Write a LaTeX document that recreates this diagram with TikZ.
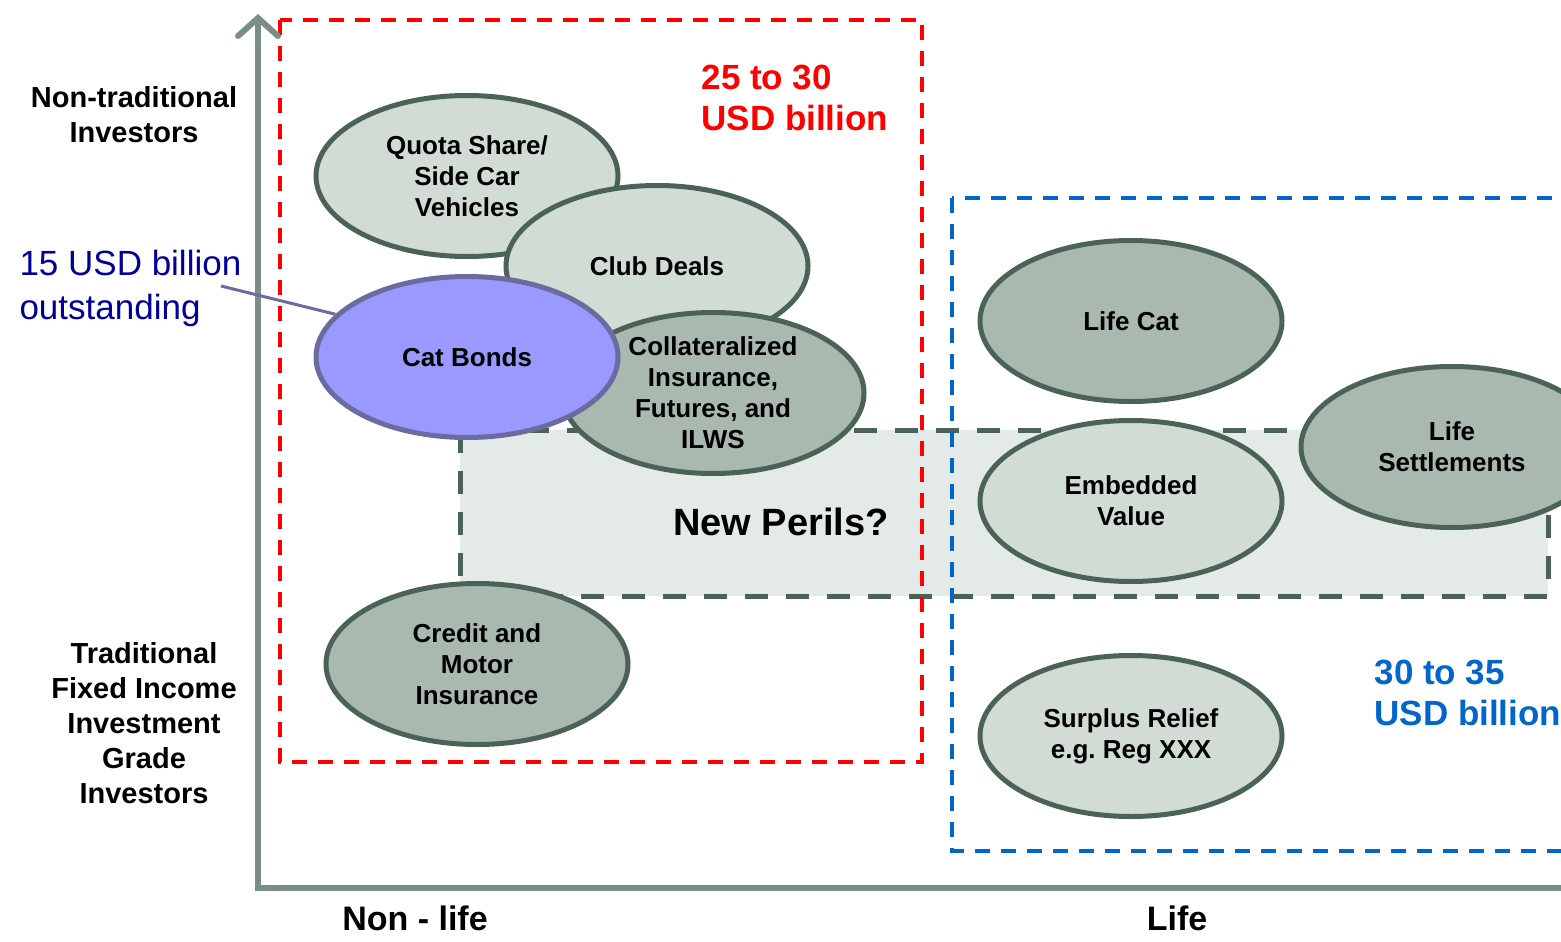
\documentclass[tikz,border=0pt]{standalone}
\usepackage{fontspec}
\setmainfont{Liberation Sans}
\usetikzlibrary{shapes.geometric,arrows.meta}
\definecolor{axisgrey}{HTML}{7A8F84}
\definecolor{rimgreen}{HTML}{4B6356}
\definecolor{palegreen}{HTML}{D1DCD5}
\definecolor{sagegreen}{HTML}{A9B9AF}
\definecolor{perilfill}{HTML}{E4EAE7}
\definecolor{catfill}{HTML}{9999FF}
\definecolor{catrim}{HTML}{6B6BA0}
\definecolor{nonlifered}{HTML}{FF0000}
\definecolor{lifeblue}{HTML}{0066CC}
\definecolor{notenavy}{HTML}{000099}

\begin{document}
\begin{tikzpicture}[x=1pt,y=-1pt,
    oval/.style={ellipse,draw=rimgreen,line width=5pt,minimum width=302pt,
      minimum height=161pt,inner sep=0pt,align=center,
      font=\fontsize{26}{31}\selectfont\bfseries},
    paleoval/.style={oval,fill=palegreen},
    sageoval/.style={oval,fill=sagegreen},
    catoval/.style={oval,fill=catfill,draw=catrim},
    sidelabel/.style={align=center,font=\fontsize{29}{35}\selectfont\bfseries},
    baselabel/.style={font=\fontsize{34}{40}\selectfont\bfseries},
    amount/.style={anchor=west,align=left,font=\fontsize{35}{41}\selectfont\bfseries},
    redframe/.style={draw=nonlifered,line width=3.6pt,dash pattern=on 15pt off 11pt},
    blueframe/.style={draw=lifeblue,line width=3.4pt,dash pattern=on 15pt off 11pt},
    perilbox/.style={fill=perilfill,draw=rimgreen,line width=5pt,dash pattern=on 23pt off 18pt},
    axis/.style={draw=axisgrey,line width=6pt}]
  \useasboundingbox (0,0) rectangle (1561,942);
  \clip (0,0) rectangle (1561,942);

  % new perils band
  \draw[perilbox] (460,430) rectangle (1548,596);
  \node[font=\fontsize{38}{44}\selectfont\bfseries] (perils) at (781,522) {New Perils?};

  % market frames
  \draw[redframe] (280,20) rectangle (922,762);
  \draw[blueframe] (952,198) rectangle (1600,851);
  \node[amount,text=nonlifered] (redsum) at (698,98) {25 to 30\\USD billion};
  \node[amount,text=lifeblue] (bluesum) at (1371,693) {30 to 35\\USD billion};

  % non-life
  \node[paleoval] (quota) at (467,176) {Quota Share/\\Side Car\\Vehicles};
  \node[paleoval] (club) at (657,266) {Club Deals};
  \node[sageoval] (collat) at (713,393) {Collateralized\\Insurance,\\Futures, and\\ILWS};
  \node[catoval] (catbonds) at (467,357) {Cat Bonds};
  \node[sageoval] (credit) at (477,664) {Credit and\\Motor\\Insurance};

  % life
  \node[sageoval] (lifecat) at (1131,321) {Life Cat};
  \node[paleoval] (embedded) at (1131,501) {Embedded\\Value};
  \node[sageoval] (settle) at (1452,447) {Life\\Settlements};
  \node[paleoval] (surplus) at (1131,736) {Surplus Relief\\e.g.\ Reg XXX};

  % axes
  \coordinate (origin) at (258,888);
  \coordinate (ytip) at (258,14);
  \coordinate (xend) at (1565,888);
  \draw[axis,-{Straight Barb[length=18pt,width=40pt,line cap=round]}] (xend) -- (origin) -- (ytip);
  \node[sidelabel] (nontrad) at (134,115) {Non-traditional\\Investors};
  \node[sidelabel] (trad) at (144,723) {Traditional\\Fixed Income\\Investment\\Grade\\Investors};
  \node[baselabel] (nonlife) at (415,918) {Non - life};
  \node[baselabel] (life) at (1177,918) {Life};

  % cat bond volume
  \node[anchor=west,align=left,text=notenavy,font=\fontsize{35}{44}\selectfont] (note) at (16,288) {15 USD billion\\outstanding};
  \coordinate (notefoot) at (221,286);
  \draw[catrim,line width=3pt] (notefoot) -- (catbonds.162);
\end{tikzpicture}
\end{document}
